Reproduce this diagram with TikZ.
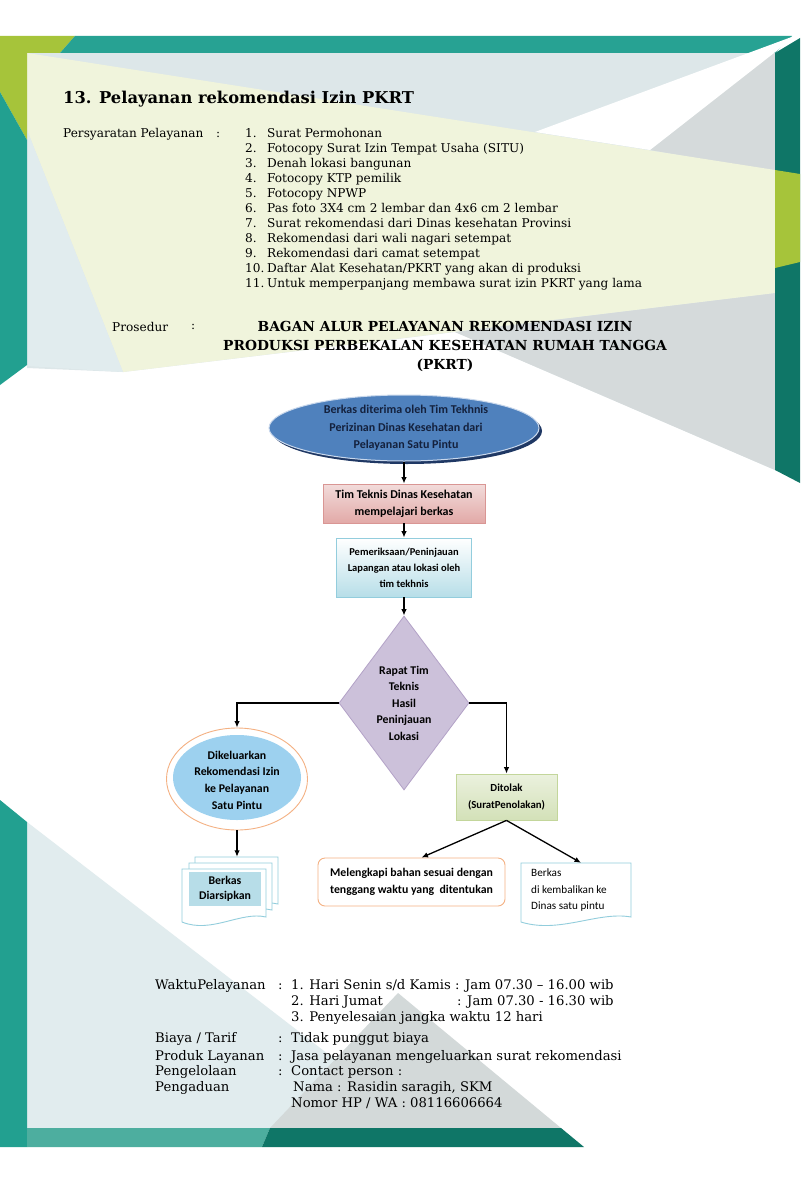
\documentclass[tikz,border=0pt]{standalone}
\usepackage{fontspec}
\setmainfont{DejaVu Serif}
\newfontfamily\calfont{Carlito}
\usetikzlibrary{shapes.geometric,arrows.meta}
\definecolor{tealband}{HTML}{27A293}
\definecolor{tealleft}{HTML}{22A090}
\definecolor{tealmid}{HTML}{4DAE9F}
\definecolor{tealdark}{HTML}{0F7667}
\definecolor{lime}{HTML}{A6C43A}
\definecolor{cream}{HTML}{F0F4DC}
\definecolor{panel}{HTML}{DDE7E9}
\definecolor{grayr}{HTML}{D5DADB}
\definecolor{lightleft}{HTML}{E1ECEE}
\definecolor{graytri}{HTML}{D3D9D9}
\definecolor{ellblue}{HTML}{4F81BD}
\definecolor{ellshadow}{HTML}{1F3864}
\definecolor{ellborder}{HTML}{C9D8EC}
\definecolor{elltext}{HTML}{14213D}
\definecolor{pinktop}{HTML}{F2DCDB}
\definecolor{pinkbot}{HTML}{E2A9A7}
\definecolor{pinkborder}{HTML}{D99694}
\definecolor{bluebot}{HTML}{B7DEE8}
\definecolor{blueborder}{HTML}{93CDDD}
\definecolor{diafill}{HTML}{CCC1DA}
\definecolor{diaborder}{HTML}{B3A2C7}
\definecolor{greentop}{HTML}{EBF1DE}
\definecolor{greenbot}{HTML}{D3E1B8}
\definecolor{greenborder}{HTML}{C3D69B}
\definecolor{sky}{HTML}{9DD1EF}
\definecolor{ring}{HTML}{F4B183}
\definecolor{docborder}{HTML}{92CDDC}
\definecolor{innerblue}{HTML}{B7DDE8}
\newcommand{\mydoc}[5]{%
  \filldraw[#5] (#1,#2) -- (#3,#2) -- (#3,#4)
    .. controls ({#3-0.3*(#3-#1)},{#4-6}) and ({#1+0.35*(#3-#1)},{#4+17}) .. (#1,{#4+5}) -- cycle;}
\begin{document}
\begin{tikzpicture}[x=1pt,y=-1pt,
  flow/.style={font=\calfont\bfseries\fontsize{12}{17.5}\selectfont, text=black, align=center, inner sep=0pt},
  arr/.style={-{Latex[length=6.5pt,width=5.5pt]}, line width=1.3pt, black},
  req/.style={font=\fontsize{12.1}{13}\selectfont, anchor=base west, inner sep=0pt},
  info/.style={font=\fontsize{13.2}{14}\selectfont, anchor=base west, inner sep=0pt},
  hd/.style={font=\bfseries\fontsize{13.8}{15}\selectfont, anchor=base, inner sep=0pt},
  docline/.style={draw=docborder, fill=white, line width=0.9pt}]
\useasboundingbox (0,0) rectangle (800,1182);
\fill[white] (0,0) rectangle (800,1182);
% ---------- background, top ----------
\fill[panel] (27,53) -- (775,53) -- (775,470) -- (455,332) -- (123,372) -- (27,368) -- cycle;
\fill[grayr] (775,51) -- (775,172) -- (650,150) -- cycle;
\fill[grayr] (775,293) -- (775,470) -- (455,332) -- cycle;
\fill[cream] (27,53) -- (775,170) -- (775,293) -- (123,372) -- (27,130) -- cycle;
\fill[lightleft] (27,130) -- (123,372) -- (27,366) -- cycle;
\fill[lime] (0,36) -- (75,36) -- (60,53) -- (27,53) -- (27,140) -- (0,92) -- cycle;
\fill[tealband] (75,36) -- (792,36) -- (775,53) -- (60,53) -- cycle;
\fill[tealleft] (0,92) -- (27,140) -- (27,365) -- (0,385) -- cycle;
\fill[tealdark] (775,53) -- (800,38) -- (800,483) -- (775,470) -- cycle;
\fill[lime] (775,170) -- (800,174) -- (800,262) -- (775,268) -- cycle;
\fill[white] (797,35) -- (535,132) -- (650,150) -- cycle;
% ---------- background, bottom ----------
\fill[lightleft] (27,822) -- (27,1128) -- (424,1128) -- cycle;
\fill[graytri] (398,993) -- (561,1128) -- (270,1128) -- cycle;
\fill[tealleft] (0,800) -- (27,822) -- (27,1147) -- (0,1147) -- cycle;
\fill[tealmid] (27,1128) -- (270,1128) -- (262,1147) -- (27,1147) -- cycle;
\fill[tealdark] (270,1128) -- (561,1128) -- (584,1147) -- (262,1147) -- cycle;
% ---------- header texts ----------
\node[anchor=base west, inner sep=0pt, font=\bfseries\fontsize{16.3}{18}\selectfont] (title) at (63,104) {13. Pelayanan rekomendasi Izin PKRT};
\node[req] (reqlab) at (63,138) {Persyaratan Pelayanan};
\node[req] (reqcol) at (216,138) {:};
\foreach \t [count=\i] in {{Surat Permohonan},{Fotocopy Surat Izin Tempat Usaha (SITU)},{Denah lokasi bangunan},{Fotocopy KTP pemilik},{Fotocopy NPWP},{Pas foto 3X4 cm 2 lembar dan 4x6 cm 2 lembar},{Surat rekomendasi dari Dinas kesehatan Provinsi},{Rekomendasi dari wali nagari setempat},{Rekomendasi dari camat setempat},{Daftar Alat Kesehatan/PKRT yang akan di produksi},{Untuk memperpanjang membawa surat izin PKRT yang lama}}{
  \node[req] (num\i) at (245,{138+14.9*(\i-1)}) {\i.};
  \node[req] (req\i) at (267,{138+14.9*(\i-1)}) {\t};
}
\node[req] (pros) at (112,331) {Prosedur};
\node[req] (proscol) at (191,329) {:};
\node[hd] (hd1) at (445,331) {BAGAN ALUR PELAYANAN REKOMENDASI IZIN};
\node[hd] (hd2) at (445,350) {PRODUKSI PERBEKALAN KESEHATAN RUMAH TANGGA};
\node[hd] (hd3) at (445,369) {(PKRT)};
% ---------- flowchart ----------
\node[ellipse, minimum width=270, minimum height=66, fill=ellshadow, inner sep=0pt] (e1s) at (407,431) {};
\node[ellipse, minimum width=270, minimum height=66, fill=ellblue, draw=ellborder, line width=1pt, inner sep=0pt] (e1) at (404,428) {};
\node[flow, text=elltext] (e1t) at (406,428) {Berkas diterima oleh Tim Tekhnis\\Perizinan Dinas Kesehatan dari\\Pelayanan Satu Pintu};
\node[rectangle, minimum width=162, minimum height=39, top color=pinktop, bottom color=pinkbot, draw=pinkborder, line width=0.8pt, flow, font=\calfont\bfseries\fontsize{12}{17}\selectfont] (r1) at (404,503.5) {Tim Teknis Dinas Kesehatan\\mempelajari berkas};
\node[rectangle, minimum width=135, minimum height=59, top color=white, bottom color=bluebot, draw=blueborder, line width=0.8pt, flow, font=\calfont\bfseries\fontsize{10.5}{16}\selectfont] (r2) at (404,567.5) {Pemeriksaan/Peninjauan\\Lapangan atau lokasi oleh\\tim tekhnis};
\node[diamond, minimum width=130, minimum height=174, fill=diafill, draw=diaborder, line width=0.8pt, inner sep=0pt] (d) at (404,703) {};
\node[flow, font=\calfont\bfseries\fontsize{11.8}{16.5}\selectfont] (dt) at (d.center) {Rapat Tim\\Teknis\\Hasil\\Peninjauan\\Lokasi};
\node[ellipse, minimum width=141, minimum height=102, fill=white, draw=ring, line width=0.9pt, inner sep=0pt] (k) at (237,779) {};
\node[ellipse, minimum width=128, minimum height=85, fill=sky, inner sep=0pt] (ki) at (237,777.5) {};
\node[flow, font=\calfont\bfseries\fontsize{11.8}{16.7}\selectfont] (kt) at (237,780) {Dikeluarkan\\Rekomendasi Izin\\ke Pelayanan\\Satu Pintu};
\node[rectangle, minimum width=101, minimum height=46, top color=greentop, bottom color=greenbot, draw=greenborder, line width=0.8pt, flow, font=\calfont\bfseries\fontsize{10.8}{16.5}\selectfont] (t) at (506.5,797) {Ditolak\\(SuratPenolakan)};
\node[rectangle, rounded corners=7pt, minimum width=187, minimum height=48, fill=white, draw=ring, line width=0.9pt, flow, font=\calfont\bfseries\fontsize{11.8}{16.5}\selectfont] (m) at (411.5,882) {Melengkapi bahan sesuai dengan\\tenggang waktu yang~ ditentukan};
% document: Berkas di kembalikan
\mydoc{521}{863}{631}{917}{docline}
\node[minimum width=110, minimum height=60, inner sep=0pt] (b) at (576,893) {};
\node[anchor=north west, align=left, inner sep=0pt, font=\calfont\fontsize{11.2}{16.5}\selectfont] (bt) at (531,869) {Berkas\\di kembalikan ke\\Dinas satu pintu};
% multi document: Berkas Diarsipkan
\mydoc{195}{857}{278}{904}{docline}
\mydoc{189}{863}{272}{910}{docline}
\mydoc{182}{869}{266}{917}{docline}
\node[minimum width=83, minimum height=46, inner sep=0pt] (md3) at (236.5,880) {};
\node[rectangle, fill=innerblue, minimum width=72, minimum height=34, flow, font=\calfont\bfseries\fontsize{11.8}{15.5}\selectfont] (md) at (225,889) {Berkas\\Diarsipkan};
% connectors
\draw[arr] (e1.south) -- (r1.north);
\draw[arr] (r1.south) -- (r2.north);
\draw[arr] (r2.south) -- (d.north);
\draw[arr] (d.west) -| (k.north);
\draw[arr] (d.east) -| (t.north);
\draw[arr] (k.south) -- (k.south |- md3.north);
\draw[arr] (t.south) -- ([xshift=10]m.north);
\draw[arr] (t.south) -- ([xshift=5]b.north);
% ---------- bottom texts ----------
\node[info] (w1) at (155,989) {WaktuPelayanan};
\node[info] (w1c) at (278,989) {:};
\node[info] (w1t) at (291,989) {1. Hari Senin s/d Kamis : Jam 07.30 – 16.00 wib};
\node[info] (w2t) at (291,1005) {2. Hari Jumat};
\node[info] (w2u) at (457,1005) {: Jam 07.30 - 16.30 wib};
\node[info] (w3t) at (291,1021) {3. Penyelesaian jangka waktu 12 hari};
\node[info] (b1) at (155,1042) {Biaya / Tarif};
\node[info] (b1c) at (278,1042) {:};
\node[info] (b1t) at (291,1042) {Tidak punggut biaya};
\node[info] (p1) at (155,1060) {Produk Layanan};
\node[info] (p1c) at (278,1060) {:};
\node[info] (p1t) at (291,1060) {Jasa pelayanan mengeluarkan surat rekomendasi};
\node[info] (g1) at (155,1075) {Pengelolaan};
\node[info] (g1c) at (278,1075) {:};
\node[info] (g1t) at (291,1075) {Contact person :};
\node[info] (g2) at (155,1091) {Pengaduan};
\node[info] (g2t) at (293,1091) {Nama : Rasidin saragih, SKM};
\node[info] (g3t) at (291,1107) {Nomor HP / WA : 08116606664};
\end{tikzpicture}
\end{document}
